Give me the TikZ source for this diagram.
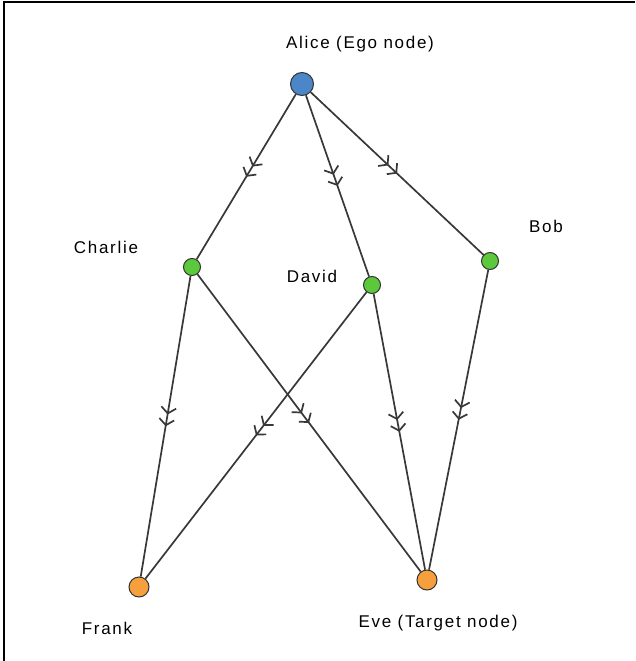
\documentclass[tikz,border=0pt]{standalone}
\usepackage{fontspec}
\setmainfont{Liberation Sans}[LetterSpace=10]
\usetikzlibrary{arrows.meta,decorations.markings}

\definecolor{egoblue}{RGB}{74,134,200}
\definecolor{peergreen}{RGB}{92,200,60}
\definecolor{targetorange}{RGB}{245,160,60}

\begin{document}
\begin{tikzpicture}[
      x=1pt, y=-1pt,
      vertex/.style={circle,draw=black!80,line width=1pt,inner sep=0pt,minimum size=#1},
      ego/.style={vertex=23pt,fill=egoblue},
      peer/.style={vertex=17pt,fill=peergreen},
      target/.style={vertex=20pt,fill=targetorange},
      lbl/.style={font=\fontsize{17}{20}\selectfont,inner sep=0pt},
      link/.style={draw=black!78,line width=1.7pt,postaction={decorate},
        decoration={markings,mark=at position 0.5 with
          {\arrow[black!78,line width=1.7pt]{Straight Barb[length=6pt,width=15pt,sep=4pt]Straight Barb[length=6pt,width=15pt]}}}}
    ]
    \useasboundingbox (0,0) rectangle (635,661);
    \draw[line width=2pt] (4,661) -- (4,2.5) -- (635,2.5);

    \node[ego]    (alice)   at (302,84)  {};
    \node[peer]   (charlie) at (192,267) {};
    \node[peer]   (david)   at (372,285) {};
    \node[peer]   (bob)     at (490,261) {};
    \node[target] (frank)   at (139,587) {};
    \node[target] (eve)     at (427,580) {};

    \node[lbl] (alicelbl)   at (360,44)  {Alice (Ego node)};
    \node[lbl] (charlielbl) at (106,247) {Charlie};
    \node[lbl] (davidlbl)   at (312,276) {David};
    \node[lbl] (boblbl)     at (546,226) {Bob};
    \node[lbl] (franklbl)   at (107,628) {Frank};
    \node[lbl] (evelbl)     at (438,623) {Eve (Target node)};

    \path[link] (alice) -- (charlie);
    \path[link] (alice) -- (david);
    \path[link] (alice) -- (bob);
    \path[link] (charlie) -- (frank);
    \path[link] (charlie) -- (eve);
    \path[link] (david) -- (frank);
    \path[link] (david) -- (eve);
    \path[link] (bob) -- (eve);
  \end{tikzpicture}
\end{document}
